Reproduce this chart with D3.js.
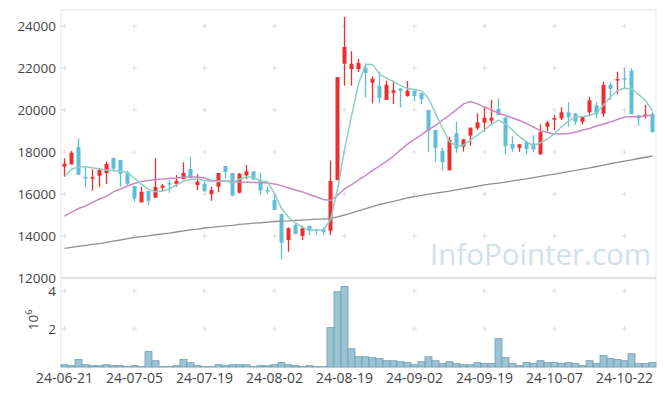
<!DOCTYPE html>
<html>
<head>
<meta charset="utf-8">
<script src="https://cdn.jsdelivr.net/npm/d3@7"></script>
<style>
  body { margin: 0; background: #fff; }
  svg { display: block; font-family: "Open Sans", sans-serif; }
</style>
</head>
<body>
<div id="chart"></div>
<script>
// trading days (yy-mm-dd)
const dates = [
  "24-06-21","24-06-24","24-06-25","24-06-26","24-06-27","24-06-28",
  "24-07-01","24-07-02","24-07-03","24-07-04","24-07-05",
  "24-07-08","24-07-09","24-07-10","24-07-11","24-07-12",
  "24-07-15","24-07-16","24-07-17","24-07-18","24-07-19",
  "24-07-22","24-07-23","24-07-24","24-07-25","24-07-26",
  "24-07-29","24-07-30","24-07-31","24-08-01","24-08-02",
  "24-08-05","24-08-06","24-08-07","24-08-08","24-08-09",
  "24-08-12","24-08-13","24-08-14","24-08-16",
  "24-08-19","24-08-20","24-08-21","24-08-22","24-08-23",
  "24-08-26","24-08-27","24-08-28","24-08-29","24-08-30",
  "24-09-02","24-09-03","24-09-04","24-09-05","24-09-06",
  "24-09-09","24-09-10","24-09-11","24-09-12","24-09-13",
  "24-09-19","24-09-20",
  "24-09-23","24-09-24","24-09-25","24-09-26","24-09-27",
  "24-09-30","24-10-02","24-10-04",
  "24-10-07","24-10-08","24-10-10","24-10-11",
  "24-10-14","24-10-15","24-10-16","24-10-17","24-10-18",
  "24-10-21","24-10-22","24-10-23","24-10-24","24-10-25","24-10-28"
];

const open = [17300,17410,18240,16810,16780,16870,16990,17710,17620,17030,
  16380,15600,16140,15820,16300,16520,16480,16710,17190,16430,
  16490,15990,16350,17330,17000,16060,16890,17080,16620,16190,
  15710,15050,13810,14520,14000,14480,14330,14320,14250,16660,
  22200,21950,21950,22010,21300,21140,20480,20820,21030,20670,
  20920,20800,20000,19050,18050,17140,18890,18250,18780,19130,
  19400,19490,20050,19650,18380,18200,18490,18410,17900,19200,
  19580,19600,19890,19840,19440,19890,20220,19820,21200,21400,
  21520,21870,19750,19710,19800];
const high = [17700,18050,18650,17330,17180,17250,17540,17710,17620,17110,
  16380,16350,16140,17700,16480,16670,16900,17510,17760,16940,
  16590,16350,17000,17330,17000,17000,17380,17080,17000,16350,
  15950,15050,14410,14570,14480,14480,14340,14410,17590,21570,
  24440,22800,22440,22220,21590,21820,21400,21400,21030,21380,
  21000,20810,20000,19050,18200,18730,19440,18620,19160,19840,
  20130,20480,20560,19650,18760,18370,18490,18810,19320,19490,
  19760,20130,20370,19840,19710,20630,20370,21350,21320,21820,
  21990,21990,19750,20240,19920];
const low = [16820,17410,16900,16320,16160,16330,16480,17140,16350,16430,
  15630,15600,15480,15820,16110,16060,16350,16710,16750,16190,
  16100,15680,16080,16760,15920,16030,16710,16650,15950,16000,
  15240,12890,13250,14100,13810,14050,14050,14050,14050,16660,
  21160,21160,21810,20600,20320,20320,20480,20290,20130,20630,
  20400,20270,17990,17540,17110,17110,17970,18020,18300,19050,
  18970,19290,19760,17900,18010,18010,17900,18010,17860,18970,
  19050,19520,19200,19290,19320,19730,19600,19670,20480,20760,
  21000,19800,19250,19600,18940];
const close = [17440,17970,16920,16790,16800,17140,17430,17200,16970,16490,
  15780,16100,15680,16330,16400,16500,16620,17000,16800,16590,
  16140,16190,17000,17050,15920,16970,17080,16700,16160,16150,
  15240,13680,14370,14100,14370,14250,14310,14190,16620,21560,
  23000,22200,22240,21760,21480,20570,21200,20940,20920,20920,
  20670,20520,19010,18200,17520,18570,18160,18600,19160,19410,
  19630,19630,19760,18290,18160,18370,18140,18130,18940,19410,
  19610,19890,19650,19440,19710,20460,19800,21190,21010,21480,
  21500,19800,19600,19780,18940];

// volume, millions of shares
const volume = [0.12,0.07,0.39,0.12,0.07,0.07,0.12,0.07,0.07,0.02,
  0.07,0.02,0.81,0.33,0.02,0.02,0.07,0.39,0.23,0.07,
  0.02,0.02,0.12,0.07,0.12,0.12,0.12,0.02,0.07,0.07,
  0.12,0.23,0.12,0.07,0.02,0.07,0.02,0.02,2.07,3.96,
  4.23,0.96,0.54,0.54,0.49,0.44,0.33,0.33,0.28,0.23,
  0.12,0.28,0.54,0.33,0.18,0.28,0.18,0.12,0.12,0.23,
  0.18,0.18,1.49,0.49,0.18,0.07,0.23,0.18,0.33,0.23,
  0.23,0.18,0.23,0.18,0.07,0.33,0.18,0.60,0.44,0.39,
  0.33,0.70,0.18,0.18,0.23];

// moving averages
const ma5 = [16820,17180,17300,17300,17250,17190,17140,17110,17110,17010,
  16750,16460,16220,16110,16140,16240,16430,16620,16700,16710,
  16640,16590,16590,16620,16540,16700,16820,16800,16630,16590,
  16030,15320,14890,14630,14410,14250,14290,14290,14760,16190,
  18100,19710,21240,22170,22170,21710,21510,21350,21170,21020,
  20980,20900,20560,19840,19130,18490,18290,18330,18570,18810,
  19050,19330,19520,19330,19050,18730,18490,18290,18450,18620,
  18880,19200,19480,19670,19690,19740,19860,20240,20620,20930,
  21030,21010,20740,20450,19950];
const ma20 = [14950,15140,15310,15430,15600,15760,15900,16100,16240,16380,
  16500,16600,16640,16690,16710,16740,16760,16800,16810,16810,
  16760,16640,16630,16620,16600,16570,16560,16550,16540,16520,
  16480,16400,16290,16190,16100,15980,15860,15740,15690,15930,
  16240,16430,16670,16880,17120,17330,17550,17810,18100,18380,
  18600,18830,19070,19260,19520,19760,20020,20290,20400,20290,
  20140,20000,19860,19740,19620,19500,19360,19190,19020,18930,
  18860,18860,18880,18950,19050,19120,19240,19330,19430,19550,
  19670,19680,19680,19710,19760];
const ma120 = [13410,13460,13510,13550,13600,13640,13700,13760,13810,13870,
  13930,13970,14010,14060,14100,14140,14190,14240,14290,14330,
  14380,14410,14450,14480,14510,14550,14580,14610,14630,14660,
  14690,14710,14720,14740,14760,14780,14800,14810,14830,14910,
  15000,15100,15200,15300,15400,15500,15580,15650,15730,15810,
  15880,15930,15990,16040,16090,16140,16200,16260,16310,16370,
  16430,16480,16520,16570,16620,16670,16720,16780,16840,16900,
  16950,17010,17070,17120,17180,17240,17310,17370,17440,17510,
  17570,17630,17690,17750,17810];

const priceTicks = [12000,14000,16000,18000,20000,22000,24000];
const volTicks = [2,4];
const dateTicks = ["24-06-21","24-07-05","24-07-19","24-08-02","24-08-19",
  "24-09-02","24-09-19","24-10-07","24-10-22"];

const W = 665, H = 396;
const plotLeft = 61, plotRight = 656, plotTop = 10;
const priceBottom = 278, volTop = 279, volBottom = 367;

const svg = d3.select("#chart").append("svg")
  .attr("width", W).attr("height", H);

const x = d3.scaleBand().domain(dates).range([plotLeft, plotRight]);
const cx = d => x(d) + x.bandwidth() / 2;
const y = d3.scaleLinear().domain([12000, 24762]).range([priceBottom, plotTop]);
const yv = d3.scaleLinear().domain([0, 4.63]).range([volBottom, volTop]);

// frame
svg.append("rect").attr("x", plotLeft).attr("y", plotTop)
  .attr("width", plotRight - plotLeft).attr("height", volBottom - plotTop)
  .attr("fill", "none").attr("stroke", "#e6e6e6");

// grid "+" markers
const gridPts = [];
dateTicks.forEach(d => {
  priceTicks.filter(v => v > 12000).forEach(v => gridPts.push([cx(d), y(v)]));
  volTicks.forEach(v => gridPts.push([cx(d), yv(v)]));
});
svg.append("g").selectAll("path").data(gridPts).enter().append("path")
  .attr("d", p => `M${p[0] - 2.5},${p[1]}h5M${p[0]},${p[1] - 2.5}v5`)
  .attr("stroke", "#dedede").attr("stroke-width", 1);

// watermark
svg.append("text").attr("x", 430).attr("y", 265)
  .attr("font-size", 29.5).attr("fill", "#cfe1eb")
  .text("InfoPointer.com");

// separator between panels
svg.append("line").attr("x1", plotLeft).attr("x2", plotRight)
  .attr("y1", priceBottom).attr("y2", priceBottom)
  .attr("stroke", "#e3e3e3").attr("stroke-width", 2.5);

// volume bars
svg.append("g").selectAll("rect").data(dates).enter().append("rect")
  .attr("x", d => x(d)).attr("width", x.bandwidth())
  .attr("y", (d, i) => yv(volume[i]))
  .attr("height", (d, i) => volBottom - yv(volume[i]))
  .attr("fill", "#9cc3d4").attr("stroke", "#6d9db5").attr("stroke-width", 0.8);

// candles
const up = "#ee2d2f", down = "#5fbdd8";
const candles = svg.append("g").selectAll("g").data(dates).enter().append("g");
candles.append("line")
  .attr("x1", d => cx(d)).attr("x2", d => cx(d))
  .attr("y1", (d, i) => y(high[i])).attr("y2", (d, i) => y(low[i]))
  .attr("stroke", (d, i) => close[i] >= open[i] ? up : down)
  .attr("stroke-width", 1.3);
candles.append("rect")
  .attr("x", d => cx(d) - 2).attr("width", 4)
  .attr("y", (d, i) => y(Math.max(open[i], close[i])))
  .attr("height", (d, i) => Math.max(1.5, Math.abs(y(open[i]) - y(close[i]))))
  .attr("fill", (d, i) => close[i] >= open[i] ? up : down);

// moving average lines
const line = arr => d3.line().x((d, i) => cx(dates[i])).y(d => y(d))(arr);
svg.append("path").attr("d", line(ma120)).attr("fill", "none")
  .attr("stroke", "#8f8f8f").attr("stroke-width", 1.3);
svg.append("path").attr("d", line(ma20)).attr("fill", "none")
  .attr("stroke", "#c98ac3").attr("stroke-width", 1.5);
svg.append("path").attr("d", line(ma5)).attr("fill", "none")
  .attr("stroke", "#8ccfc3").attr("stroke-width", 1.5);

// axes
const yAxis = svg.append("g").attr("transform", `translate(${plotLeft},0)`)
  .call(d3.axisLeft(y).tickValues(priceTicks).tickSize(0).tickPadding(5).tickFormat(d3.format("d")));
const vAxis = svg.append("g").attr("transform", `translate(${plotLeft},0)`)
  .call(d3.axisLeft(yv).tickValues(volTicks).tickSize(0).tickPadding(5).tickFormat(d3.format("d")));
const xAxis = svg.append("g").attr("transform", `translate(0,${volBottom})`)
  .call(d3.axisBottom(x).tickValues(dateTicks).tickSize(0).tickPadding(6));
[yAxis, vAxis].forEach(g => {
  g.select(".domain").remove();
  g.selectAll("text").attr("font-size", 13.5).attr("fill", "#444")
    .attr("font-family", "Open Sans, sans-serif");
});
xAxis.select(".domain").remove();
xAxis.selectAll("text").attr("font-size", 14).attr("fill", "#444")
  .attr("font-family", "Open Sans, sans-serif");

// volume unit label
const unit = svg.append("text")
  .attr("transform", "translate(38,320) rotate(-90)")
  .attr("text-anchor", "middle").attr("font-size", 13.5).attr("fill", "#444");
unit.append("tspan").text("10");
unit.append("tspan").attr("font-size", 9).attr("dy", -6).text("6");
</script>
</body>
</html>
